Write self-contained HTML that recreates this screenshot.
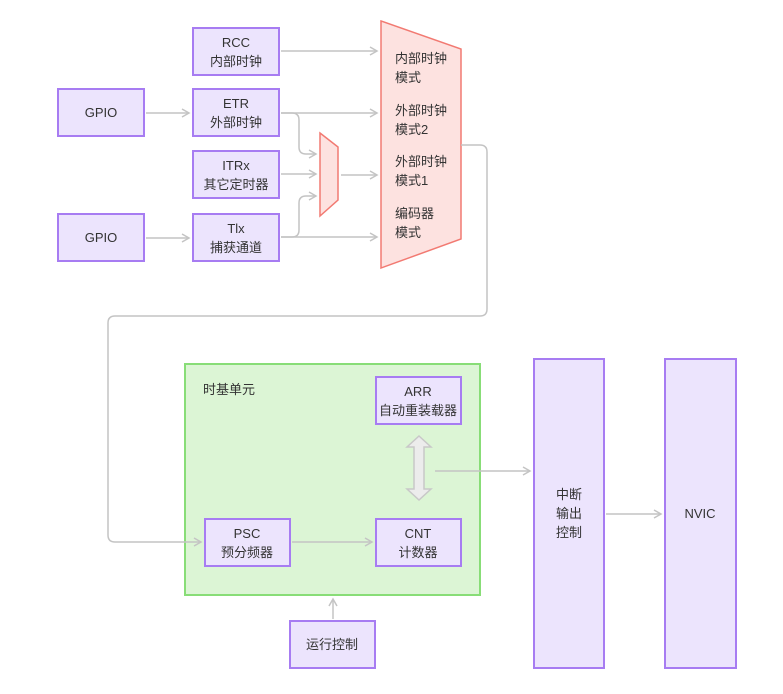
<!DOCTYPE html>
<html><head><meta charset="utf-8"><style>
body{margin:0;background:#fff;width:783px;height:689px;overflow:hidden}
text{font-family:"Liberation Sans","Noto Sans CJK SC",sans-serif;font-size:13px;fill:#333}
.b{fill:#ece4fd;stroke:#a77cf2;stroke-width:2}
.l{fill:none;stroke:#c4c4c4;stroke-width:1.5}
</style></head><body>
<svg width="783" height="689" viewBox="0 0 783 689" xmlns="http://www.w3.org/2000/svg">
<defs><marker id="a" markerWidth="10" markerHeight="10" refX="8" refY="5" orient="auto" markerUnits="userSpaceOnUse"><path d="M1,1 L8,5 L1,9" fill="none" stroke="#c4c4c4" stroke-width="1.5"/></marker></defs>
<rect x="185" y="364" width="295" height="231" fill="#dcf5d5" stroke="#88dd77" stroke-width="2"/>
<text x="203" y="394">时基单元</text>
<polygon points="381,21 461,49 461,239 381,268" fill="#fde2e0" stroke="#f27a72" stroke-width="1.5"/>
<polygon points="320,133 338,147 338,200 320,216" fill="#fde2e0" stroke="#f27a72" stroke-width="1.5"/>
<g class="l">
<path d="M281,51 H377" marker-end="url(#a)"/>
<path d="M146,113 H189" marker-end="url(#a)"/>
<path d="M146,238 H189" marker-end="url(#a)"/>
<path d="M281,113 H377" marker-end="url(#a)"/>
<path d="M281,113 H292 Q299,113 299,120 V147 Q299,154 306,154 H316" marker-end="url(#a)"/>
<path d="M281,174 H316" marker-end="url(#a)"/>
<path d="M281,237 H292 Q299,237 299,230 V203 Q299,196 306,196 H316" marker-end="url(#a)"/>
<path d="M281,237 H377" marker-end="url(#a)"/>
<path d="M341,175 H377" marker-end="url(#a)"/>
<path d="M461,145 H480 Q487,145 487,152 V309 Q487,316 480,316 H115 Q108,316 108,323 V535 Q108,542 115,542 H201" marker-end="url(#a)"/>
<path d="M292,542 H372" marker-end="url(#a)"/>
<path d="M435,471 H530" marker-end="url(#a)"/>
<path d="M606,514 H661" marker-end="url(#a)"/>
<path d="M333,619 V599" marker-end="url(#a)"/>
</g>
<polygon points="419,436 431,447 424,447 424,489 431,489 419,500 407,489 414,489 414,447 407,447" fill="#ececec" stroke="#c8c8c8" stroke-width="1.5"/>
<rect class="b" x="193" y="28" width="86" height="47"/><text x="236" y="47" text-anchor="middle">RCC</text><text x="236" y="66" text-anchor="middle">内部时钟</text>
<rect class="b" x="193" y="89" width="86" height="47"/><text x="236" y="108" text-anchor="middle">ETR</text><text x="236" y="127" text-anchor="middle">外部时钟</text>
<rect class="b" x="193" y="151" width="86" height="47"/><text x="236" y="170" text-anchor="middle">ITRx</text><text x="236" y="189" text-anchor="middle">其它定时器</text>
<rect class="b" x="193" y="214" width="86" height="47"/><text x="236" y="233" text-anchor="middle">Tlx</text><text x="236" y="252" text-anchor="middle">捕获通道</text>
<rect class="b" x="58" y="89" width="86" height="47"/><text x="101" y="117" text-anchor="middle">GPIO</text>
<rect class="b" x="58" y="214" width="86" height="47"/><text x="101" y="242" text-anchor="middle">GPIO</text>
<text x="395" y="63">内部时钟</text><text x="395" y="82">模式</text>
<text x="395" y="115">外部时钟</text><text x="395" y="134">模式2</text>
<text x="395" y="166">外部时钟</text><text x="395" y="185">模式1</text>
<text x="395" y="218">编码器</text><text x="395" y="237">模式</text>
<rect class="b" x="376" y="377" width="85" height="47"/><text x="418" y="396" text-anchor="middle">ARR</text><text x="418" y="415" text-anchor="middle">自动重装载器</text>
<rect class="b" x="376" y="519" width="85" height="47"/><text x="418" y="538" text-anchor="middle">CNT</text><text x="418" y="557" text-anchor="middle">计数器</text>
<rect class="b" x="205" y="519" width="85" height="47"/><text x="247" y="538" text-anchor="middle">PSC</text><text x="247" y="557" text-anchor="middle">预分频器</text>
<rect class="b" x="290" y="621" width="85" height="47"/><text x="332" y="649" text-anchor="middle">运行控制</text>
<rect class="b" x="534" y="359" width="70" height="309"/><text x="569" y="499" text-anchor="middle">中断</text><text x="569" y="518" text-anchor="middle">输出</text><text x="569" y="537" text-anchor="middle">控制</text>
<rect class="b" x="665" y="359" width="71" height="309"/><text x="700" y="518" text-anchor="middle">NVIC</text>
</svg>
</body></html>
